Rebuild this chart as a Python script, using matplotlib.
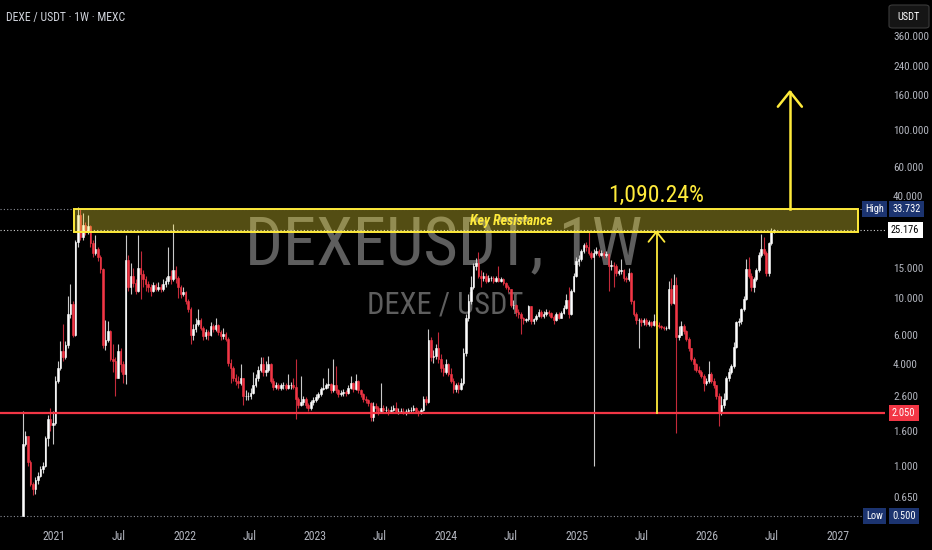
import numpy as np
import matplotlib
matplotlib.use('Agg')
import matplotlib.pyplot as plt
import matplotlib.dates as mdates
import matplotlib.font_manager as fm
from matplotlib.transforms import blended_transform_factory
from matplotlib.patches import Rectangle, FancyBboxPatch

# ---------------- data (weekly candles, DEXE/USDT, MEXC) ----------------
first_week = '2020-10-05'
first_open = 0.5

close = [
    1.35, 1.5, 1.05, 0.78, 0.72, 0.82, 0.87, 0.95, 1.0, 1.45,
    1.9, 1.75, 1.8, 3.2, 3.8, 4.8, 4.4, 5.2, 8.0, 9.1,
    6.0, 21.5, 31.0, 23.0, 27.0, 24.5, 26.5, 21.0, 18.5, 19.5,
    17.5, 14.8, 5.2, 5.6, 6.3, 4.3, 4.2, 3.3, 4.8, 4.0,
    3.5, 16.8, 11.5, 13.5, 12.2, 11.0, 15.0, 13.8, 12.8, 12.0,
    11.5, 11.0, 11.8, 11.3, 11.6, 11.2, 12.0, 12.5, 13.5, 12.8,
    14.5, 13.0, 11.5, 10.5, 10.8, 9.5, 8.5, 6.0, 6.5, 7.0,
    7.3, 6.6, 5.9, 6.2, 6.0, 6.8, 6.5, 6.9, 6.2, 5.9,
    6.1, 5.7, 4.1, 3.8, 3.3, 3.2, 3.1, 3.3, 2.6, 2.6,
    2.6, 2.7, 3.0, 3.3, 3.7, 4.0, 3.6, 3.7, 4.0, 3.2,
    2.95, 3.0, 2.9, 3.0, 3.0, 2.9, 3.0, 3.0, 2.95, 2.5,
    2.3, 2.4, 2.5, 2.3, 2.2, 2.4, 2.45, 2.55, 2.65, 2.85,
    2.9, 3.0, 3.05, 2.8, 3.0, 2.8, 2.65, 2.7, 2.75, 2.7,
    2.9, 3.1, 2.85, 3.2, 2.8, 2.65, 2.5, 2.45, 2.35, 1.95,
    2.25, 2.2, 2.1, 2.2, 2.15, 2.15, 2.1, 2.15, 2.2, 2.1,
    2.1, 2.12, 2.1, 2.1, 2.15, 2.15, 2.2, 2.1, 2.05, 2.15,
    2.5, 2.4, 5.6, 4.4, 4.5, 5.0, 4.3, 3.8, 3.6, 4.0,
    3.5, 3.2, 2.85, 3.0, 2.85, 3.1, 4.7, 7.5, 9.5, 11.5,
    15.5, 16.0, 13.5, 13.0, 13.5, 12.5, 13.0, 13.0, 12.6, 13.0,
    12.6, 12.8, 12.2, 11.5, 11.2, 9.0, 9.0, 8.2, 8.0, 7.5,
    7.3, 7.4, 8.9, 7.2, 7.4, 7.8, 8.2, 7.8, 8.0, 8.2,
    8.1, 7.7, 7.3, 8.0, 7.6, 8.1, 8.7, 9.7, 8.0, 11.0,
    13.5, 16.5, 17.0, 19.0, 20.5, 20.0, 18.5, 17.5, 18.5, 19.0,
    18.0, 18.5, 17.8, 18.2, 15.5, 15.7, 15.5, 14.0, 14.3, 14.5,
    13.0, 12.8, 14.0, 9.5, 8.0, 7.3, 7.3, 7.1, 7.3, 7.0,
    7.1, 6.9, 7.2, 6.9, 6.8, 6.7, 6.6, 6.6, 11.3, 9.3,
    11.8, 5.8, 6.0, 6.8, 6.3, 5.7, 5.0, 4.3, 4.0, 3.7,
    3.6, 3.4, 3.1, 3.2, 3.5, 3.2, 3.0, 2.6, 2.1, 2.3,
    2.5, 3.3, 3.6, 3.9, 5.1, 7.1, 7.2, 8.5, 9.8, 14.8,
    13.5, 11.5, 12.8, 14.5, 18.0, 19.5, 18.5, 13.9, 21.0, 25.0,
    25.176,
]

high = [
    2.1, 1.6, 1.5, 1.08, 0.8, 0.85, 0.92, 1.0, 1.05, 1.5,
    2.0, 2.2, 2.1, 3.4, 4.2, 5.5, 7.0, 5.5, 10.2, 12.0,
    9.5, 22.0, 34.5, 33.7, 32.0, 28.0, 31.0, 27.0, 22.0, 23.5,
    20.0, 18.0, 15.0, 7.3, 7.2, 6.4, 5.3, 4.4, 5.3, 5.0,
    4.2, 23.4, 18.0, 16.0, 15.0, 12.8, 23.4, 19.0, 14.5, 13.5,
    12.5, 12.0, 12.3, 12.2, 12.4, 12.0, 12.8, 13.2, 20.0, 14.5,
    27.5, 15.5, 13.5, 11.8, 11.5, 11.0, 9.8, 8.8, 7.0, 7.5,
    8.5, 7.5, 6.8, 6.5, 6.4, 7.1, 7.0, 7.6, 7.0, 6.4,
    6.6, 6.2, 5.8, 4.3, 3.9, 3.5, 3.4, 4.0, 3.3, 2.8,
    2.75, 2.9, 3.6, 3.5, 3.9, 4.4, 4.4, 4.2, 4.5, 4.1,
    3.3, 3.15, 3.1, 3.1, 3.15, 3.1, 3.5, 3.15, 3.3, 4.3,
    2.55, 3.4, 2.6, 2.55, 2.35, 2.45, 2.55, 2.65, 2.75, 2.95,
    3.3, 3.1, 3.8, 3.1, 4.3, 3.9, 2.85, 2.8, 2.85, 2.8,
    3.0, 3.4, 3.15, 3.5, 3.25, 2.85, 2.7, 2.6, 2.5, 2.4,
    2.4, 2.35, 2.25, 3.1, 2.3, 2.25, 2.2, 2.25, 2.3, 2.4,
    2.2, 2.2, 2.2, 2.18, 2.2, 2.22, 2.28, 2.22, 2.15, 2.2,
    2.6, 2.6, 6.5, 5.8, 4.9, 5.3, 6.2, 4.6, 4.0, 4.3,
    4.1, 3.8, 3.3, 3.1, 3.15, 3.3, 5.0, 8.0, 10.5, 13.5,
    16.0, 17.3, 18.6, 14.5, 14.2, 14.0, 13.6, 13.5, 13.4, 13.4,
    15.4, 13.3, 13.0, 12.4, 11.8, 11.3, 9.6, 9.2, 8.5, 8.2,
    7.7, 7.6, 9.0, 8.9, 7.6, 8.0, 8.6, 8.4, 8.3, 8.5,
    8.4, 8.2, 7.9, 8.2, 8.2, 8.3, 9.0, 10.5, 11.5, 11.3,
    14.0, 17.5, 18.0, 19.5, 21.0, 21.5, 24.5, 19.0, 19.5, 20.0,
    19.5, 19.2, 18.8, 18.8, 18.3, 16.8, 16.2, 15.8, 14.8, 17.0,
    14.8, 13.4, 15.0, 14.2, 9.6, 8.2, 7.6, 7.6, 7.6, 7.5,
    7.3, 7.2, 8.0, 7.3, 7.1, 6.9, 6.8, 6.8, 12.6, 13.0,
    13.8, 13.3, 6.8, 7.2, 7.0, 6.4, 5.8, 5.0, 4.4, 4.1,
    3.9, 3.7, 3.5, 3.3, 4.2, 3.6, 3.3, 3.0, 2.7, 2.6,
    2.7, 3.4, 3.8, 4.0, 5.4, 7.2, 7.6, 8.7, 10.2, 17.0,
    17.5, 14.0, 13.2, 15.0, 18.6, 24.0, 23.0, 18.8, 21.5, 26.0,
    25.5,
]

low = [
    0.5, 1.3, 1.0, 0.75, 0.67, 0.68, 0.78, 0.85, 0.9, 0.98,
    1.3, 1.6, 1.34, 1.75, 3.1, 3.7, 4.2, 4.3, 5.0, 7.5,
    5.8, 5.9, 20.0, 22.0, 22.0, 23.5, 24.0, 20.0, 17.5, 18.0,
    16.5, 14.0, 5.0, 4.9, 5.4, 4.2, 3.6, 2.6, 3.3, 3.6,
    3.1, 3.06, 11.0, 10.5, 11.5, 10.5, 10.8, 9.8, 11.5, 11.0,
    10.8, 10.2, 10.8, 10.9, 11.0, 10.8, 10.9, 11.5, 12.0, 12.0,
    12.5, 12.2, 10.0, 10.0, 10.2, 9.2, 8.2, 5.3, 5.6, 6.2,
    6.8, 6.4, 5.6, 5.7, 5.6, 5.9, 6.2, 6.3, 6.0, 5.6,
    5.7, 5.5, 3.9, 3.1, 3.2, 3.0, 2.9, 3.0, 2.3, 2.45,
    2.45, 2.5, 2.65, 2.95, 3.2, 3.6, 3.4, 3.4, 3.6, 3.1,
    2.8, 2.85, 2.8, 2.8, 2.85, 2.8, 2.85, 2.85, 2.85, 1.9,
    2.2, 2.25, 2.3, 2.2, 2.1, 2.15, 2.3, 2.4, 2.5, 2.6,
    2.8, 2.85, 2.9, 2.7, 2.75, 2.7, 2.55, 2.6, 2.6, 2.6,
    2.65, 2.85, 2.75, 2.8, 2.7, 2.55, 2.4, 2.35, 2.25, 1.85,
    1.83, 2.05, 2.0, 2.05, 2.05, 2.05, 2.0, 2.05, 2.1, 2.05,
    2.02, 2.05, 2.02, 2.0, 2.05, 2.08, 2.1, 2.05, 1.98, 2.02,
    2.1, 2.3, 2.35, 4.2, 4.1, 4.3, 4.1, 3.6, 3.4, 3.5,
    3.4, 3.1, 2.7, 2.75, 2.7, 2.8, 3.0, 4.5, 7.2, 9.2,
    11.2, 14.5, 13.0, 11.5, 12.5, 12.2, 12.3, 12.5, 12.2, 12.4,
    12.3, 12.3, 11.8, 11.2, 10.8, 8.8, 8.5, 7.8, 7.6, 6.1,
    7.0, 7.1, 7.2, 7.0, 7.0, 7.2, 7.7, 7.5, 7.6, 7.8,
    7.8, 7.5, 7.0, 7.2, 7.4, 7.5, 8.0, 8.6, 7.6, 7.9,
    10.8, 13.2, 15.5, 16.5, 18.5, 19.0, 18.0, 17.0, 0.99, 18.0,
    17.5, 17.6, 17.2, 17.5, 11.0, 14.5, 11.5, 13.5, 13.6, 13.8,
    12.5, 12.3, 12.6, 9.2, 7.8, 7.0, 5.0, 6.8, 6.9, 6.8,
    6.8, 6.7, 6.8, 6.7, 6.6, 6.5, 6.4, 6.4, 6.5, 9.0,
    9.2, 1.57, 5.6, 6.0, 6.1, 5.5, 4.8, 4.2, 3.7, 3.6,
    3.5, 3.3, 2.78, 3.0, 3.1, 3.1, 2.9, 2.5, 1.72, 2.0,
    2.2, 2.45, 3.2, 3.5, 3.8, 5.0, 6.8, 7.0, 8.3, 9.6,
    13.0, 11.0, 10.8, 12.5, 14.2, 17.5, 17.8, 13.5, 13.5, 20.5,
    24.3,
]

price_ticks = [360, 240, 160, 100, 60, 40, 15, 10, 6, 4, 2.6, 1.6, 1.0, 0.65]
time_ticks = ['2021-01-01', '2021-07-01', '2022-01-01', '2022-07-01', '2023-01-01',
              '2023-07-01', '2024-01-01', '2024-07-01', '2025-01-01', '2025-07-01',
              '2026-01-01', '2026-07-01', '2027-01-01']
time_labels = ['2021', 'Jul', '2022', 'Jul', '2023', 'Jul', '2024', 'Jul', '2025', 'Jul',
               '2026', 'Jul', '2027']

resistance_low, resistance_high = 24.6, 33.732
support = 2.05
last_price = 25.176
all_time_low = 0.5
gain_text = '1,090.24%'

# ---------------- fonts ----------------
avail = {f.name for f in fm.fontManager.ttflist}
NARROW = None
for cand in ['Liberation Sans Narrow', 'Roboto Condensed', 'Open Sans Condensed', 'Arial Narrow']:
    if cand in avail:
        NARROW = cand
        break
S = 1.0
if NARROW is None:
    NARROW = 'DejaVu Sans'
    S = 0.8
plt.rcParams['font.family'] = [NARROW, 'DejaVu Sans']

# ---------------- figure ----------------
W, H = 932, 550
fig = plt.figure(figsize=(W / 100, H / 100), dpi=100, facecolor='black')
ax = fig.add_axes([0, 26 / H, 885 / W, 524 / H])
ax.set_facecolor('black')
ax.set_yscale('log')
ax.set_ylim(10 ** ((465.5 - 524) / 168), 10 ** (465.5 / 168))
x_start = mdates.date2num(np.datetime64('2020-08-02'))
ax.set_xlim(x_start, x_start + 2475)
for s in ax.spines.values():
    s.set_visible(False)

# candles
C = np.array(close, float)
O = np.array([first_open] + close[:-1], float)
Hh = np.maximum(np.array(high, float), np.maximum(O, C))
Ll = np.minimum(np.array(low, float), np.minimum(O, C))
n = len(C)
dates = np.datetime64(first_week) + np.arange(n) * np.timedelta64(7, 'D')
xd = mdates.date2num(dates)
up = C >= O
UP, DN = '#ffffff', '#f23645'
ax.vlines(xd[up], Ll[up], Hh[up], colors='#c9c9c9', linewidth=0.8, zorder=3)
ax.vlines(xd[~up], Ll[~up], Hh[~up], colors='#c42a3a', linewidth=0.8, zorder=3)
bot = np.minimum(O, C)
hgt = np.abs(C - O)
ax.bar(xd[up], hgt[up], bottom=bot[up], width=4.6, color=UP, edgecolor=UP, linewidth=0.4, zorder=4)
ax.bar(xd[~up], hgt[~up], bottom=bot[~up], width=4.6, color=DN, edgecolor=DN, linewidth=0.4, zorder=4)

# watermark
ax.text(444 / 885, 1 - 265 / 524, 'DEXEUSDT, 1W', transform=ax.transAxes, ha='center', va='baseline',
        fontsize=48 * S, color='#5e5e5e', zorder=1)
ax.text(445 / 885, 1 - 313 / 524, 'DEXE / USDT', transform=ax.transAxes, ha='center', va='baseline',
        fontsize=22 * S, color='#5e5e5e', zorder=1)

# horizontal reference lines
ax.axhline(resistance_high, color='#8a8d96', lw=0.8, ls=(0, (1, 2)), zorder=2)
ax.axhline(last_price, color='#d0d0d0', lw=0.8, ls=(0, (1, 2)), zorder=2)
ax.axhline(all_time_low, color='#8a8d96', lw=0.8, ls=(0, (1, 2)), zorder=2)
ax.axhline(support, color='#f23645', lw=1.6, zorder=5)

# key resistance zone
YEL = '#ffeb3b'
bx0 = mdates.date2num(np.datetime64('2021-02-25'))
bx1 = mdates.date2num(np.datetime64('2027-02-26'))
ax.add_patch(Rectangle((bx0, resistance_low), bx1 - bx0, resistance_high - resistance_low,
                       facecolor=(1.0, 0.92, 0.23, 0.33), edgecolor=YEL, lw=1.4, zorder=6))
ax.text(mdates.date2num(np.datetime64('2024-07-01')), 28.6, 'Key Resistance', ha='center', va='center',
        fontsize=10 * S, color=YEL, fontweight='bold', fontstyle='italic', zorder=7)

# arrows
px_day = 885 / 2475.0
xa = mdates.date2num(np.datetime64('2025-08-12'))
ax.plot([xa, xa], [support, resistance_low], color=YEL, lw=1.3, zorder=7)
dx = 8 / px_day
k = 10 ** (10 / 168)
ax.plot([xa - dx, xa, xa + dx], [resistance_low / k, resistance_low, resistance_low / k],
        color=YEL, lw=1.3, zorder=7, solid_capstyle='round')
ax.text(xa, 40.5, gain_text, ha='center', va='center', fontsize=17 * S, color=YEL, zorder=7)

xb = mdates.date2num(np.datetime64('2026-08-20'))
tip = 10 ** ((465.5 - 91.7) / 168)
ax.plot([xb, xb], [resistance_high, tip], color=YEL, lw=1.8, zorder=7)
dx2 = 12 / px_day
k2 = 10 ** (15 / 168)
ax.plot([xb - dx2, xb, xb + dx2], [tip / k2, tip, tip / k2], color=YEL, lw=1.8, zorder=7,
        solid_capstyle='round')

# axes ticks
ax.yaxis.tick_right()
ax.set_yticks(price_ticks)
ax.set_yticklabels([f'{v:.3f}' for v in price_ticks])
ax.yaxis.set_minor_locator(matplotlib.ticker.NullLocator())
ax.tick_params(axis='y', length=0, pad=5.8, labelsize=8 * S, labelcolor='#b2b5be')
ax.set_xticks(mdates.date2num(np.array(time_ticks, dtype='datetime64[D]')))
ax.set_xticklabels(time_labels)
ax.tick_params(axis='x', length=0, pad=4.5, labelsize=8.5 * S, labelcolor='#b2b5be')

# price labels on the right scale
tr = blended_transform_factory(fig.transFigure, ax.transData)
NAVY = '#1c3470'


def plabel(xpx, p, txt, fc, tc):
    ax.text(xpx / W, p, txt, transform=tr, ha='left', va='center', fontsize=7.5 * S, color=tc,
            bbox=dict(boxstyle='square,pad=0.3', fc=fc, ec='none'), clip_on=False, zorder=10)


plabel(865, resistance_high, 'High', NAVY, 'white')
plabel(892, resistance_high, f'{resistance_high:.3f}', NAVY, 'white')
plabel(891, last_price, f'{last_price:.3f}', 'white', 'black')
plabel(892, support, f'{support:.3f}', '#f23645', 'white')
plabel(866, all_time_low, 'Low', NAVY, 'white')
plabel(892, all_time_low, f'{all_time_low:.3f}', NAVY, 'white')

# header
fig.text(6 / W, 1 - 20.5 / H, 'DEXE / USDT · 1W · MEXC', ha='left', va='baseline',
         fontsize=8.5 * S, color='#d1d4dc')
fig.patches.append(FancyBboxPatch((889 / W, 1 - 28 / H), 40 / W, 23 / H,
                                  boxstyle='round,pad=0,rounding_size=0.004',
                                  transform=fig.transFigure, fc='#151515', ec='#3a3a3a', lw=0.8))
fig.text(909 / W, 1 - 16.5 / H, 'USDT', ha='center', va='center', fontsize=7.5 * S, color='white')

fig.savefig('out.png', dpi=100, facecolor='black')
